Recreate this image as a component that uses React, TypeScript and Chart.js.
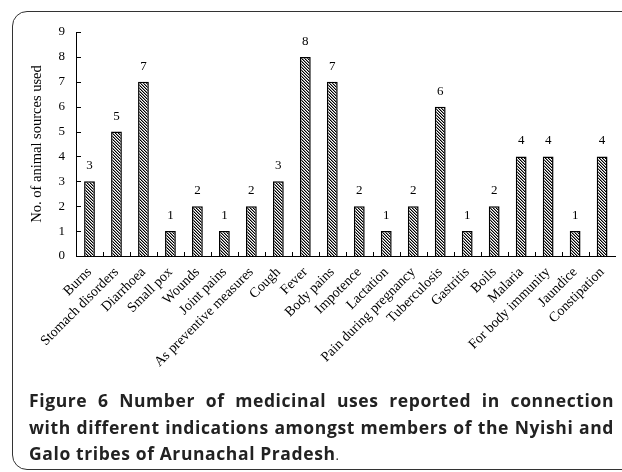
import React, { useEffect, useRef } from "react";
import { Chart, registerables } from "chart.js";

Chart.register(...registerables);

const categories: string[] = [
  "Burns",
  "Stomach disorders",
  "Diarrhoea",
  "Small pox",
  "Wounds",
  "Joint pains",
  "As preventive measures",
  "Cough",
  "Fever",
  "Body pains",
  "Impotence",
  "Lactation",
  "Pain during pregnancy",
  "Tuberculosis",
  "Gastritis",
  "Boils",
  "Malaria",
  "For body immunity",
  "Jaundice",
  "Constipation",
];
const values: number[] = [3, 5, 7, 1, 2, 1, 2, 3, 8, 7, 2, 1, 2, 6, 1, 2, 4, 4, 1, 4];
const yTickValues: number[] = [0, 1, 2, 3, 4, 5, 6, 7, 8, 9];
const yAxisTitle = "No. of animal sources used";
const captionBold1 = "Figure 6 Number of medicinal uses reported in connection";
const captionBold2 = "with different indications amongst members of the Nyishi and";
const captionBold3 = "Galo tribes of Arunachal Pradesh";

const SERIF = '"Liberation Serif", "Times New Roman", serif';

function makeHatch(): CanvasPattern | string {
  const s = 3;
  const c = document.createElement("canvas");
  c.width = s;
  c.height = s;
  const g = c.getContext("2d");
  if (!g) return "#888";
  g.fillStyle = "#fff";
  g.fillRect(0, 0, s, s);
  for (let i = 0; i < s; i++) {
    g.fillStyle = "#000";
    g.fillRect(i, i, 1, 1);
    g.fillStyle = "#8a8a8a";
    g.fillRect((i + 1) % s, i, 1, 1);
  }
  return g.createPattern(c, "repeat") || "#888";
}

const valueLabels = {
  id: "valueLabels",
  afterDatasetsDraw(chart: any) {
    const ctx = chart.ctx;
    const meta = chart.getDatasetMeta(0);
    const data = chart.data.datasets[0].data as number[];
    ctx.save();
    ctx.font = `13px ${SERIF}`;
    ctx.fillStyle = "#000";
    ctx.textAlign = "center";
    ctx.textBaseline = "alphabetic";
    meta.data.forEach((el: any, i: number) => {
      ctx.fillText(String(data[i]), el.x, el.y - 12);
    });
    ctx.restore();
  },
};

const innerTicks = {
  id: "innerTicks",
  afterDraw(chart: any) {
    const { ctx, chartArea, scales } = chart;
    const xs = scales.x;
    const ys = scales.y;
    ctx.save();
    ctx.strokeStyle = "#000";
    ctx.lineWidth = 1;
    ctx.beginPath();
    ys.ticks.forEach((t: any) => {
      const py = Math.round(ys.getPixelForValue(t.value)) + 0.5;
      ctx.moveTo(chartArea.left, py);
      ctx.lineTo(chartArea.left + 5, py);
    });
    for (let i = 1; i < categories.length; i++) {
      const px = Math.round((xs.getPixelForValue(i - 1) + xs.getPixelForValue(i)) / 2) + 0.5;
      ctx.moveTo(px, chartArea.bottom);
      ctx.lineTo(px, chartArea.bottom - 4);
    }
    ctx.stroke();
    ctx.restore();
  },
};

const CANVAS_W = 622;
const CANVAS_H = 390;
const PLOT_TOP = 32;
const PLOT_BOTTOM = 256;
const PLOT_LEFT = 76;

export default function App() {
  const ref = useRef<HTMLCanvasElement | null>(null);

  useEffect(() => {
    if (!ref.current) return;
    const hatch = makeHatch();
    const chart = new Chart(ref.current, {
      type: "bar",
      data: {
        labels: categories,
        datasets: [
          {
            data: values,
            backgroundColor: hatch as any,
            borderColor: "#000",
            borderWidth: 1.5,
            barPercentage: 0.8,
            categoryPercentage: 0.5,
          },
        ],
      },
      options: {
        animation: false,
        responsive: false,
        maintainAspectRatio: false,
        devicePixelRatio: 1,
        layout: { padding: { top: PLOT_TOP, left: 0, right: 0, bottom: 0 } },
        plugins: {
          legend: { display: false },
          tooltip: { enabled: false },
          title: { display: false },
        },
        scales: {
          x: {
            grid: { display: false, drawTicks: false },
            border: { display: true, color: "#000", width: 1 },
            ticks: {
              color: "#000",
              font: { family: SERIF, size: 14 },
              minRotation: 45,
              maxRotation: 45,
              autoSkip: false,
              padding: 8,
            },
            afterFit: (scale: any) => {
              scale.height = CANVAS_H - PLOT_BOTTOM;
            },
          },
          y: {
            min: 0,
            max: 9,
            grid: { display: false, drawTicks: false },
            border: { display: true, color: "#000", width: 1 },
            afterBuildTicks: (scale: any) => {
              scale.ticks = yTickValues.map((v) => ({ value: v }));
            },
            ticks: {
              color: "#000",
              font: { family: SERIF, size: 13 },
              padding: 11,
            },
            title: {
              display: true,
              text: yAxisTitle,
              color: "#000",
              font: { family: SERIF, size: 14.5, weight: "normal" },
              padding: { top: 28, bottom: 0 },
            },
            afterFit: (scale: any) => {
              scale.width = PLOT_LEFT;
            },
          },
        },
      },
      plugins: [valueLabels, innerTicks],
    });
    return () => chart.destroy();
  }, []);

  const lineStyle: React.CSSProperties = {
    whiteSpace: "nowrap",
    textAlign: "justify",
    textAlignLast: "justify",
    height: 26.5,
    lineHeight: "26.5px",
  };

  return (
    <div
      style={{
        position: "absolute",
        left: 0,
        top: 0,
        width: 622,
        height: 472,
        overflow: "hidden",
        background: "#fff",
      }}
    >
      <div
        style={{
          position: "absolute",
          left: 12,
          top: 11,
          width: 640,
          height: 459,
          border: "1.3px solid #333",
          borderRadius: 15,
          boxSizing: "border-box",
        }}
      />
      <canvas
        ref={ref}
        width={CANVAS_W}
        height={CANVAS_H}
        style={{ position: "absolute", left: 0, top: 0, width: CANVAS_W, height: CANVAS_H }}
      />
      <div
        style={{
          position: "absolute",
          left: 29,
          top: 387,
          width: 585,
          fontFamily: '"Open Sans", "Noto Sans", sans-serif',
          fontWeight: 700,
          fontSize: 17.5,
          letterSpacing: 0.6,
          color: "#222",
        }}
      >
        <div style={lineStyle}>{captionBold1}</div>
        <div style={lineStyle}>{captionBold2}</div>
        <div style={{ ...lineStyle, textAlign: "left", textAlignLast: "left" }}>
          {captionBold3}
          <span style={{ fontWeight: 400, fontSize: 13, letterSpacing: 0 }}>.</span>
        </div>
      </div>
    </div>
  );
}
